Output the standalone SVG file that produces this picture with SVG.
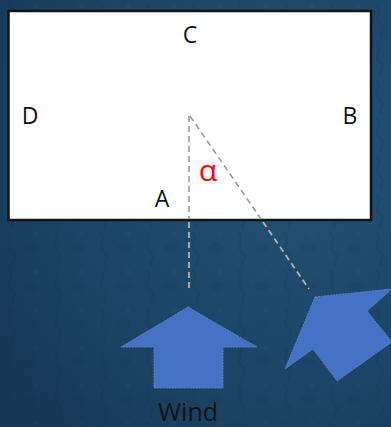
<svg xmlns="http://www.w3.org/2000/svg" width="391" height="427" viewBox="0 0 391 427">
  <style>
    .lbl { font-family: "Open Sans", "Noto Sans", "DejaVu Sans", sans-serif; font-size: 23px; fill: #111; text-anchor: middle; }
    .alpha { font-family: "Open Sans", "Noto Sans", "DejaVu Sans", sans-serif; font-size: 30px; fill: #ff0000; text-anchor: middle; }
    .wind { font-family: "Open Sans", "Noto Sans", "DejaVu Sans", sans-serif; font-size: 25px; fill: #121212; text-anchor: middle; }
    .arrow { fill: #4472c4; stroke: #5a7fc0; stroke-width: 1; stroke-dasharray: 2 1; }
    .dash-in { stroke: #9c9c9c; stroke-width: 1.6; stroke-dasharray: 6 4; fill: none; }
    .dash-out { stroke: #bdb39c; stroke-width: 1.8; stroke-dasharray: 6 4; fill: none; }
  </style>
  <defs>
    <radialGradient id="bg" cx="0.75" cy="0.35" r="0.9">
      <stop offset="0" stop-color="#245276"/>
      <stop offset="0.6" stop-color="#1c4567"/>
      <stop offset="1" stop-color="#163857"/>
    </radialGradient>
    <pattern id="tex" width="46" height="38" patternUnits="userSpaceOnUse">
      <path d="M8,4 C16,10 4,18 12,24 C20,30 8,34 14,38" fill="none" stroke="#0f2c48" stroke-width="3" opacity="0.12"/>
      <ellipse cx="32" cy="20" rx="8" ry="5" fill="#0f2c48" opacity="0.09"/>
      <circle cx="36" cy="6" r="2.5" fill="#3a6a90" opacity="0.08"/>
    </pattern>
  </defs>

  <rect x="0" y="0" width="391" height="427" fill="url(#bg)"/>
  <rect x="0" y="0" width="391" height="427" fill="url(#tex)"/>

  <g id="board">
    <rect x="8.5" y="11" width="362.5" height="209" fill="#ffffff" stroke="#141414" stroke-width="2.5"/>
  </g>

  <g id="connectors">
    <line class="dash-in" x1="189" y1="116" x2="189" y2="219"/>
    <line class="dash-out" x1="189" y1="222" x2="189" y2="290"/>
    <line class="dash-in" x1="190" y1="116" x2="261" y2="219"/>
    <line class="dash-out" x1="263" y1="222" x2="309" y2="289"/>
  </g>

  <g id="label-C"><text class="lbl" x="190" y="43">C</text></g>
  <g id="label-D"><text class="lbl" x="30" y="124">D</text></g>
  <g id="label-B"><text class="lbl" x="350" y="124">B</text></g>
  <g id="label-A"><text class="lbl" x="162" y="207">A</text></g>
  <g id="label-alpha"><text class="alpha" x="208" y="181">α</text></g>

  <g id="wind-arrow">
    <polygon class="arrow" points="188,307 257,347 223,347 223,388 154,388 154,347 121,347"/>
  </g>

  <g id="rotated-arrow">
    <polygon class="arrow" points="315,297 392,289 367,311 392,342 337,381 313,349 285,369"/>
  </g>

  <g id="wind-label"><text class="wind" x="188" y="421">Wind</text></g>
</svg>
